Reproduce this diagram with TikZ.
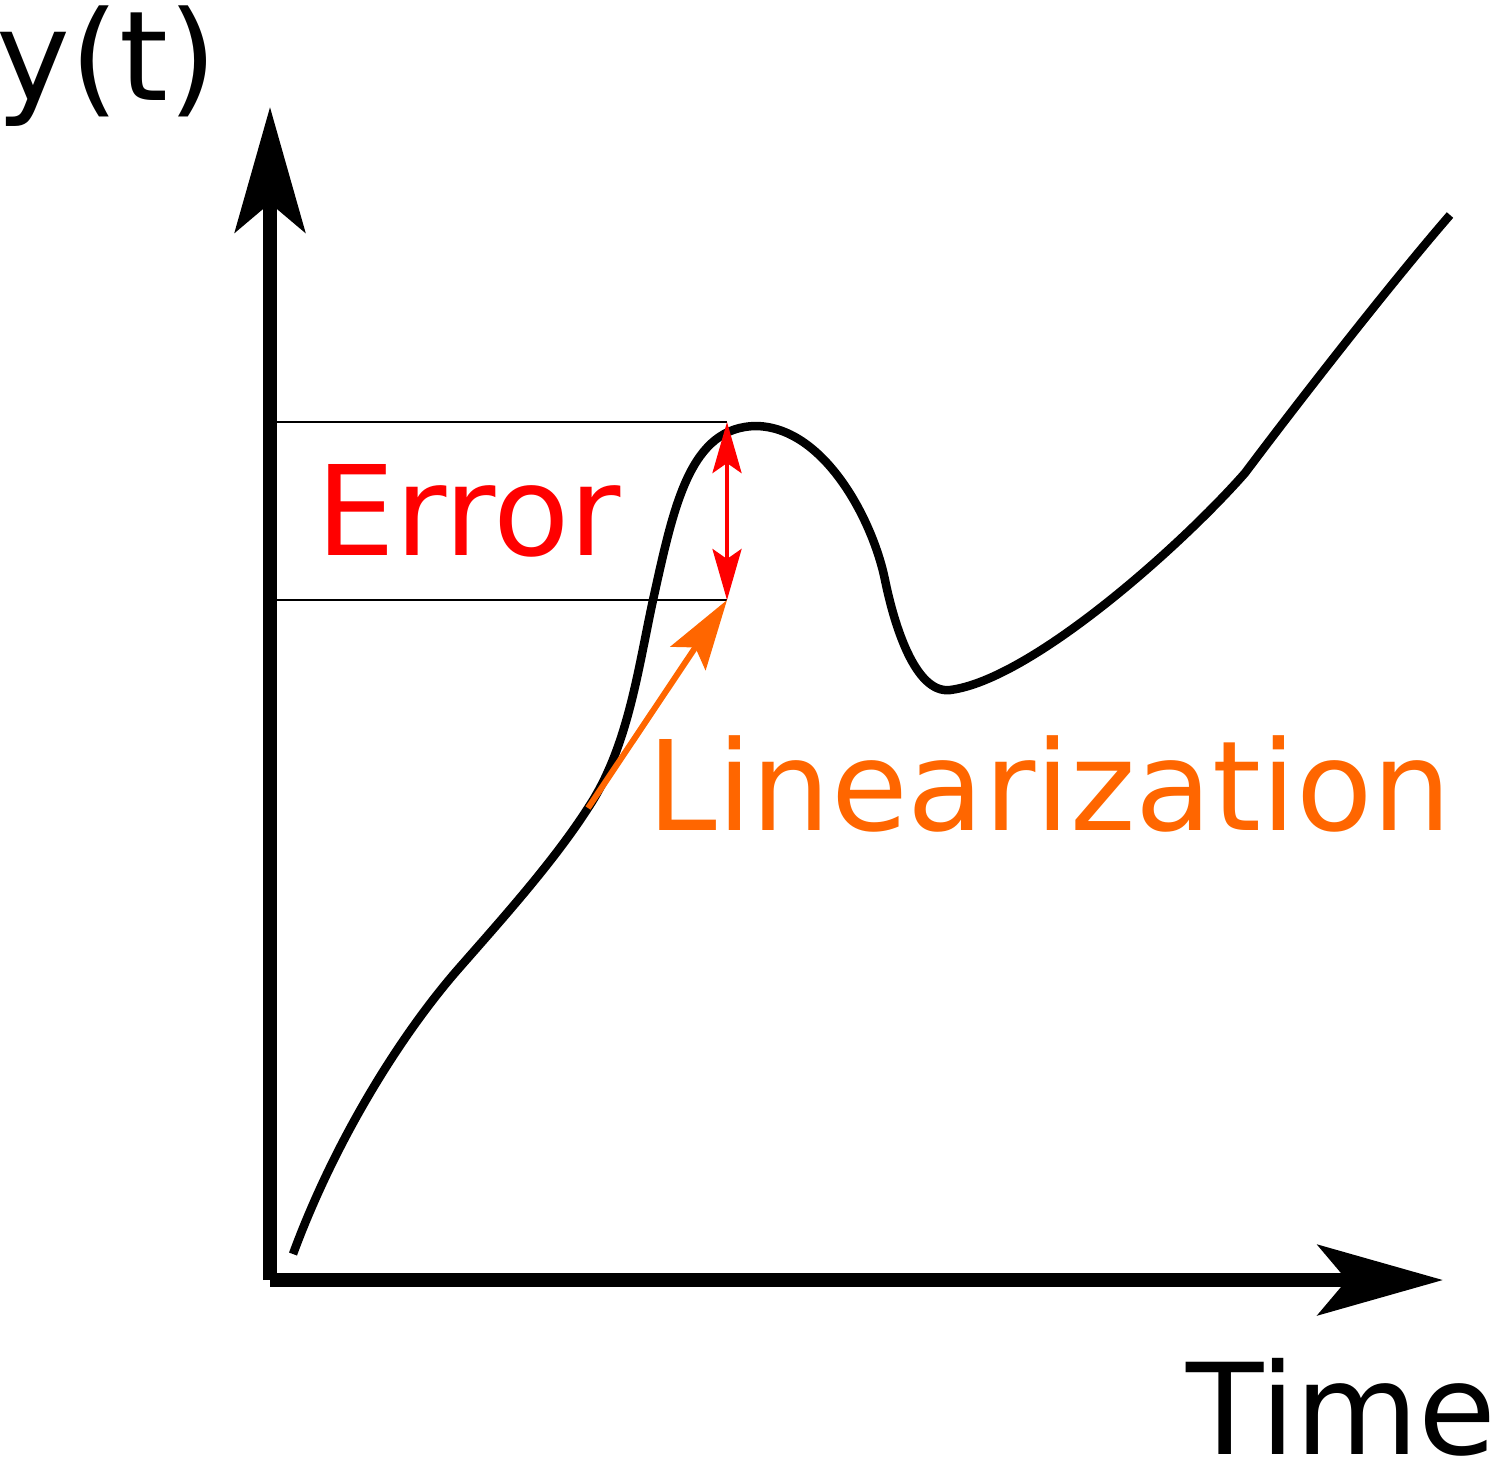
\documentclass[tikz,border=0pt]{standalone}
\usepackage{fontspec}
\setmainfont{DejaVu Sans}
\usetikzlibrary{arrows.meta}
\definecolor{errred}{HTML}{FF0000}
\definecolor{linorange}{HTML}{FF6600}
\tikzset{
  axis/.style={-{Stealth[length=1.25cm,width=.7cm,inset=.29cm]},line width=.135cm},
  curve/.style={line width=.085cm},
  guide/.style={line width=.025cm},
  errarrow/.style={{Stealth[length=.51cm,width=.29cm,inset=.1cm]}-{Stealth[length=.51cm,width=.29cm,inset=.1cm]},draw=errred,line width=.04cm},
  linarrow/.style={-{Stealth[length=.7cm,width=.42cm,inset=.13cm]},draw=linorange,line width=.06cm},
  textlbl/.style={inner sep=0pt,anchor=base west,font=\fontsize{35.5}{40}\selectfont}}

\begin{document}
\begin{tikzpicture}[x=.01cm,y=-.01cm]
\useasboundingbox (0,0) rectangle (1507,1462);
\coordinate (origin) at (270,1280);
\coordinate (ytip) at (270,107);
\coordinate (xtip) at (1443,1280);
\coordinate (errtop) at (727,422);
\coordinate (errbot) at (727,600);
\coordinate (tangent) at (588,808);
% axes
\draw[axis] (origin) -- (ytip);
\draw[axis] (origin) -- (xtip);
\draw[guide] (origin |- errtop) -- (errtop);
\draw[guide] (origin |- errbot) -- (errbot);
% response
\draw[curve] (293,1254) .. controls (335,1140) and (401,1034) .. (460,967)
  .. controls (503,918) and (554,861) .. (tangent)
  .. controls (628,748) and (638,669) .. (653,600)
  .. controls (674,505) and (690,426) .. (757,426)
  .. controls (825,428) and (873,521) .. (885,580)
  .. controls (894,624) and (915,694) .. (950,690)
  .. controls (1030,680) and (1179,548) .. (1245,473)
  .. controls (1299,401) and (1391,283) .. (1450,215);
\draw[errarrow] (errtop) -- (errbot);
\draw[linarrow] (tangent) -- (errbot);
\node[textlbl] (ylabel) at (-4,100) {y(t)};
\node[textlbl,font=\fontsize{36}{42}\selectfont] (xlabel) at (1186,1454) {Time};
\node[textlbl,text=errred] (errlabel) at (316,555) {Error};
\node[textlbl,text=linorange] (linlabel) at (647,830) {Linearization};
\end{tikzpicture}
\end{document}
